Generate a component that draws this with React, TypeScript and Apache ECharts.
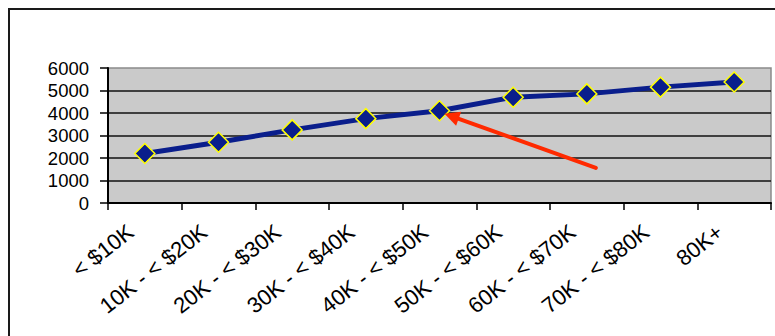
import React, { useEffect, useRef } from "react";
import * as echarts from "echarts";

// Income brackets along the x axis
const categories = [
  "< $10K",
  "10K - < $20K",
  "20K - < $30K",
  "30K - < $40K",
  "40K - < $50K",
  "50K - < $60K",
  "60K - < $70K",
  "70K - < $80K",
  "80K+",
];

// Plotted values, one per bracket
const values = [2200, 2700, 3250, 3750, 4100, 4700, 4850, 5150, 5380];

// Value axis range and step
const yMin = 0;
const yMax = 6000;
const yStep = 1000;

// Annotation arrow: points at the "40K - < $50K" value, tail low in the "60K - < $70K" bracket
const arrowTargetIndex = 4;
const arrowTail = [6, 1560];

const FONT = "'Liberation Sans', Arial, sans-serif";

export default function App() {
  const ref = useRef<HTMLDivElement>(null);

  useEffect(() => {
    if (!ref.current) return;
    const chart = echarts.init(ref.current, undefined, { renderer: "svg" });

    chart.setOption({
      animation: false,
      backgroundColor: "#ffffff",
      grid: {
        left: 108,
        right: 4,
        top: 68,
        bottom: 133,
        show: true,
        backgroundColor: "#cacaca",
        borderColor: "#8a8a8a",
        borderWidth: 1.5,
      },
      xAxis: {
        type: "category",
        data: categories,
        boundaryGap: true,
        axisLine: { lineStyle: { color: "#000", width: 2 } },
        axisTick: { show: true, length: 7, lineStyle: { color: "#000", width: 1.5 } },
        axisLabel: {
          interval: 0,
          rotate: 38,
          margin: 15,
          padding: [0, 18, 0, 0],
          fontFamily: FONT,
          fontSize: 22,
          lineHeight: 20,
          color: "#000",
        },
        splitLine: { show: false },
      },
      yAxis: {
        type: "value",
        min: yMin,
        max: yMax,
        interval: yStep,
        axisLine: { show: true, lineStyle: { color: "#000", width: 2 } },
        axisTick: { show: true, length: 8, lineStyle: { color: "#000", width: 1.5 } },
        axisLabel: {
          margin: 19,
          fontFamily: FONT,
          fontSize: 18.5,
          lineHeight: 18,
          color: "#000",
          formatter: (v: number) => String(v),
        },
        splitLine: {
          show: true,
          showMaxLine: false,
          lineStyle: { color: "#111", width: 1.6 },
        },
      },
      series: [
        {
          type: "line",
          data: values,
          symbol: "diamond",
          symbolSize: [20, 20],
          lineStyle: { color: "#0a1e8c", width: 5 },
          itemStyle: { color: "#0a1e8c", borderColor: "#ffff00", borderWidth: 1.5 },
          z: 3,
        },
      ],
    });

    // Outer frame and the red annotation arrow, placed through the chart's own scales
    const target = chart.convertToPixel({ seriesIndex: 0 }, [arrowTargetIndex, values[arrowTargetIndex]]) as number[];
    const tailBase = chart.convertToPixel({ gridIndex: 0 }, arrowTail) as number[];
    const tip = [target[0] + 5, target[1] + 3];
    const tail = [tailBase[0] + 9, tailBase[1]];
    const dx = tip[0] - tail[0];
    const dy = tip[1] - tail[1];
    const len = Math.hypot(dx, dy);
    const ux = dx / len;
    const uy = dy / len;
    const headLen = 15;
    const headHalf = 7.5;
    const base = [tip[0] - ux * headLen, tip[1] - uy * headLen];
    const px = -uy;
    const py = ux;

    chart.setOption({
      graphic: [
        {
          type: "rect",
          shape: { x: 9, y: 9, width: 800, height: 360 },
          style: { fill: "none", stroke: "#1a1a1a", lineWidth: 2 },
          silent: true,
          z: 0,
        },
        {
          type: "line",
          shape: { x1: tail[0], y1: tail[1], x2: base[0] + ux * 2, y2: base[1] + uy * 2 },
          style: { stroke: "#ff2a00", lineWidth: 4, lineCap: "round" },
          silent: true,
          z: 10,
        },
        {
          type: "polygon",
          shape: {
            points: [
              [tip[0], tip[1]],
              [base[0] + px * headHalf, base[1] + py * headHalf],
              [base[0] - px * headHalf, base[1] - py * headHalf],
            ],
          },
          style: { fill: "#ff2a00" },
          silent: true,
          z: 10,
        },
      ],
    });

    return () => chart.dispose();
  }, []);

  return (
    <div
      ref={ref}
      style={{ position: "fixed", left: 0, top: 0, width: 775, height: 336 }}
    />
  );
}
